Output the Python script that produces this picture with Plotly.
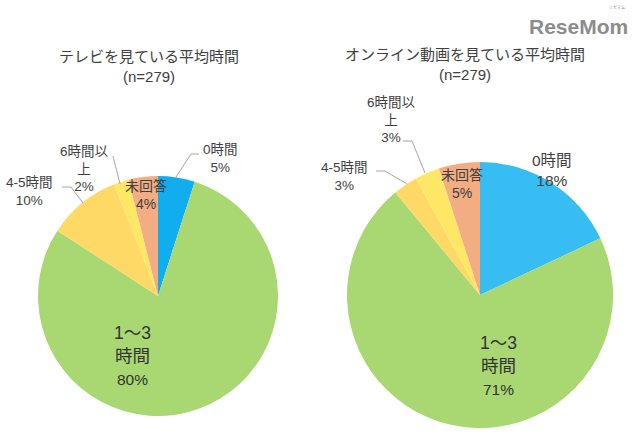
import plotly.graph_objects as go

W, H = 640, 439

categories = ["0時間", "1～3時間", "4-5時間", "6時間以上", "未回答"]
tv_values = [5, 80, 10, 2, 4]
online_values = [18, 71, 3, 3, 5]
tv_title = "テレビを見ている平均時間"
online_title = "オンライン動画を見ている平均時間"
sample = "(n=279)"

JP = "Liberation Sans, Noto Sans CJK JP"
TXT = "#404040"
colors_tv = ["#10AEEF", "#A9D772", "#FFD966", "#FFE766", "#F2AE82"]
colors_online = ["#38BDF3", "#A9D772", "#FFD966", "#FFE766", "#F2AE82"]

fig = go.Figure()


def add_pie(values, colors, left, right, top, bottom):
    fig.add_trace(go.Pie(
        labels=categories,
        values=values,
        sort=False,
        direction="clockwise",
        rotation=0,
        textinfo="none",
        marker=dict(colors=colors, line=dict(width=0)),
        domain=dict(x=[left / W, right / W], y=[1 - bottom / H, 1 - top / H]),
        showlegend=False,
    ))


add_pie(tv_values, colors_tv, 38, 278, 176, 416)
add_pie(online_values, colors_online, 347, 613, 162, 428)


def label(x, y, text, size=13.5, color=TXT, family=JP):
    fig.add_annotation(
        x=x / W, y=1 - y / H, xref="paper", yref="paper",
        text=text, showarrow=False, xanchor="center", yanchor="middle",
        align="center", font=dict(size=size, color=color, family=family),
    )


def line_path(points):
    for (x0, y0), (x1, y1) in zip(points[:-1], points[1:]):
        fig.add_shape(type="line", xref="paper", yref="paper",
                      x0=x0 / W, y0=1 - y0 / H, x1=x1 / W, y1=1 - y1 / H,
                      line=dict(color="#A6A6A6", width=1))


def big_label(x, y, value):
    label(x, y, f'1～3<br>時間<br><span style="font-size:15.5px">{value}%</span>', 17.5, "#333333")


# titles
label(149, 57, tv_title, 15)
label(149, 76, sample, 15)
label(465, 55, online_title, 15)
label(465, 74, sample, 15)

# left pie labels
label(220, 158, f"{categories[0]}<br>{tv_values[0]}%")
label(84, 169, f"6時間以<br>上<br>{tv_values[3]}%")
label(29, 191, f"{categories[2]}<br>{tv_values[2]}%")
label(146, 195, f"{categories[4]}<br>{tv_values[4]}%", 14)
big_label(132, 355, tv_values[1])

# right pie labels
label(552, 170, f"{categories[0]}<br>{online_values[0]}%", 15.5)
label(391, 120, f"6時間以<br>上<br>{online_values[3]}%")
label(344, 176, f"{categories[2]}<br>{online_values[2]}%")
label(462, 184, f"{categories[4]}<br>{online_values[4]}%", 14)
big_label(498, 365, online_values[1])

# leader lines
line_path([(176, 177), (191, 154), (199, 154)])
line_path([(113, 156), (120, 184)])
line_path([(62, 187), (71, 187), (83, 203)])
line_path([(403, 141), (412, 141), (425, 173)])
line_path([(376, 171), (385, 171), (407, 184)])

# logo
label(578.5, 26, "<b>ReseMom</b>", 21, "#8C8C8C", "Liberation Sans")
label(617, 8, "リセマム", 4, "#8C8C8C")

fig.update_layout(
    width=W, height=H,
    margin=dict(l=0, r=0, t=0, b=0),
    paper_bgcolor="white",
    plot_bgcolor="white",
    font=dict(family=JP),
)

fig.write_html("out.html", config=dict(displayModeBar=False),
               post_script="document.body.style.margin='0';")
